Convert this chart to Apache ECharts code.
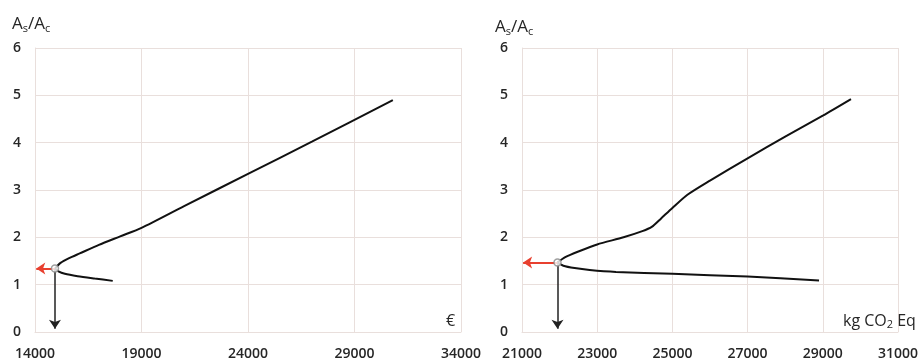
<!DOCTYPE html>
<html><head><meta charset="utf-8">
<script src="https://cdn.jsdelivr.net/npm/echarts@6/dist/echarts.min.js"></script>
<style>html,body{margin:0;padding:0;background:#fff}#c{width:921px;height:361px}</style>
</head><body><div id="c"></div>
<script>
// ---- data ----
const yTicks = [0, 1, 2, 3, 4, 5, 6];
const costTicks = [14000, 19000, 24000, 29000, 34000];
const co2Ticks = [21000, 23000, 25000, 27000, 29000, 31000];

const costUpper = [[14937,1.34],[15200,1.46],[15600,1.56],[16100,1.66],[17000,1.84],[18000,2.02],[19000,2.2],[21000,2.66],[24000,3.34],[27000,4.02],[30800,4.9]];
const costLower = [[14937,1.34],[15100,1.28],[15400,1.23],[16000,1.18],[16800,1.13],[17650,1.08]];
const costOptimum = [14937, 1.34];
const costRedArrowEnd = [14060, 1.34];
const costBlackArrowEnd = [14937, 0.07];

const co2Upper = [[21944,1.47],[22150,1.58],[22500,1.7],[23000,1.85],[23700,2.0],[24200,2.13],[24450,2.22],[24700,2.4],[25000,2.62],[25400,2.9],[26000,3.2],[27000,3.67],[28000,4.13],[29000,4.57],[29750,4.92]];
const co2Lower = [[21944,1.47],[22100,1.40],[22400,1.35],[22800,1.31],[23500,1.27],[25000,1.23],[27000,1.17],[28900,1.09]];
const co2Optimum = [21944, 1.47];
const co2RedArrowEnd = [21030, 1.47];
const co2BlackArrowEnd = [21944, 0.07];

// ---- style ----
const FONT = 'Open Sans';
const gridColor = '#e9dfdc';
const textColor = '#262626';

function xAxisCfg(gi, ticks) {
  return {
    type: 'value', gridIndex: gi, min: ticks[0], max: ticks[ticks.length - 1],
    axisLine: { show: true, lineStyle: { color: gridColor } },
    axisTick: { show: false, customValues: ticks },
    axisLabel: { customValues: ticks, margin: 15, color: textColor, fontSize: 14, fontFamily: FONT,
      fontWeight: 600, formatter: v => String(v) },
    splitLine: { show: true, lineStyle: { color: gridColor, width: 1 } }
  };
}
function yAxisCfg(gi) {
  return {
    type: 'value', gridIndex: gi, min: yTicks[0], max: yTicks[yTicks.length - 1], interval: 1,
    axisLine: { show: true, lineStyle: { color: gridColor } },
    axisTick: { show: false },
    axisLabel: { margin: 14, color: textColor, fontSize: 14, fontFamily: FONT, fontWeight: 600 },
    splitLine: { show: true, lineStyle: { color: gridColor, width: 1 } }
  };
}
function curve(gi, data) {
  return { type: 'line', xAxisIndex: gi, yAxisIndex: gi, data: data, smooth: 0.25,
    showSymbol: false, symbol: 'none', lineStyle: { color: '#111', width: 2 }, z: 3, animation: false };
}
function arrows(gi, opt, redEnd, blackEnd) {
  return { type: 'scatter', xAxisIndex: gi, yAxisIndex: gi, data: [], z: 2, animation: false,
    markLine: { silent: true, animation: false, symbol: ['none', 'arrow'], symbolSize: 9, label: { show: false },
      data: [
        [{ coord: opt, lineStyle: { color: '#e8402f', width: 2, type: 'solid' } }, { coord: redEnd }],
        [{ coord: opt, lineStyle: { color: '#222', width: 1.5, type: 'solid' } }, { coord: blackEnd }]
      ] } };
}
function marker(gi, opt) {
  return { type: 'scatter', xAxisIndex: gi, yAxisIndex: gi, data: [opt], symbol: 'circle', symbolSize: 7, z: 5,
    itemStyle: { color: '#fff', borderColor: '#888', borderWidth: 1.5 }, animation: false };
}
const richTitle = {
  a: { fontSize: 17, fontFamily: FONT, color: textColor, lineHeight: 20, fontWeight: 'normal' },
  s: { fontSize: 11, fontFamily: FONT, color: textColor, lineHeight: 3, verticalAlign: 'bottom', fontWeight: 'normal' }
};
const richUnit = {
  b: { fontSize: 16, fontFamily: FONT, color: textColor, lineHeight: 18, fontWeight: 'normal' },
  t: { fontSize: 11, fontFamily: FONT, color: textColor, lineHeight: 3, verticalAlign: 'bottom', fontWeight: 'normal' }
};

const chart = echarts.init(document.getElementById('c'), null, { renderer: 'canvas' });
chart.setOption({
  backgroundColor: '#fff',
  animation: false,
  title: [
    { text: '{a|A}{s|s}{a|/A}{s|c}', left: 12, top: 14, padding: 0, textStyle: { fontWeight: 'normal', rich: richTitle } },
    { text: '{a|A}{s|s}{a|/A}{s|c}', left: 495, top: 17, padding: 0, textStyle: { fontWeight: 'normal', rich: richTitle } },
    { text: '€', left: 446, top: 313, padding: 0, textStyle: { fontSize: 16, fontFamily: FONT, color: textColor, fontWeight: 'normal' } },
    { text: '{b|kg CO}{t|2}{b| Eq}', left: 843, top: 312, padding: 0, textStyle: { fontWeight: 'normal', rich: richUnit } }
  ],
  grid: [
    { left: 35, right: 460, top: 48, bottom: 27 },
    { left: 522, right: 21, top: 48, bottom: 27 }
  ],
  xAxis: [xAxisCfg(0, costTicks), xAxisCfg(1, co2Ticks)],
  yAxis: [yAxisCfg(0), yAxisCfg(1)],
  series: [
    arrows(0, costOptimum, costRedArrowEnd, costBlackArrowEnd),
    curve(0, costUpper), curve(0, costLower), marker(0, costOptimum),
    arrows(1, co2Optimum, co2RedArrowEnd, co2BlackArrowEnd),
    curve(1, co2Upper), curve(1, co2Lower), marker(1, co2Optimum)
  ]
});
</script>
</body></html>
